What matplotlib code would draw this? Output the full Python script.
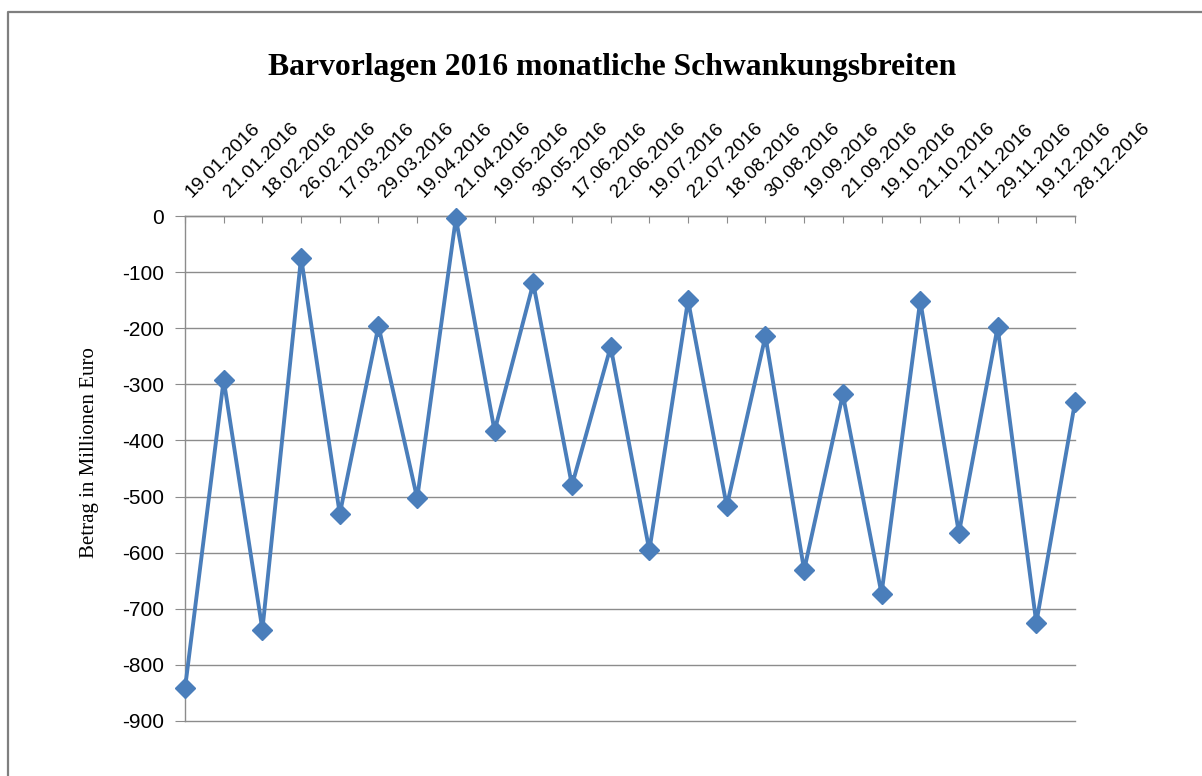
import matplotlib
matplotlib.use('Agg')
import matplotlib.pyplot as plt
from matplotlib.lines import Line2D
from matplotlib.transforms import ScaledTranslation

plt.rcParams['axes.unicode_minus'] = False

# Daten (in Mio. Euro)
dates = ['19.01.2016', '21.01.2016', '18.02.2016', '26.02.2016', '17.03.2016',
         '29.03.2016', '19.04.2016', '21.04.2016', '19.05.2016', '30.05.2016',
         '17.06.2016', '22.06.2016', '19.07.2016', '22.07.2016', '18.08.2016',
         '30.08.2016', '19.09.2016', '21.09.2016', '19.10.2016', '21.10.2016',
         '17.11.2016', '29.11.2016', '19.12.2016', '28.12.2016']
values = [-842, -292, -737, -74, -531, -196, -503, -4, -383, -120,
          -480, -233, -596, -150, -517, -214, -631, -318, -673, -151,
          -565, -198, -725, -332]
yticks = list(range(0, -1000, -100))

blue = '#4a7ebb'
grey = '#8c8c8c'

fig = plt.figure(figsize=(12.02, 7.76), dpi=100)

# Rahmen oben und links (wie im Screenshot)
x0, y0 = 8 / 1202, 1 - 12 / 776
fig.lines.append(Line2D([x0, x0, 1.0], [0.0, y0, y0], transform=fig.transFigure,
                        color='#7f7f7f', linewidth=1.6))

ax = fig.add_axes([185 / 1202, 1 - 721 / 776, (1075 - 185) / 1202, (721 - 216) / 776])

x = list(range(len(values)))
ax.plot(x, values, color=blue, linewidth=2.8, marker='D', markersize=10,
        markerfacecolor=blue, markeredgecolor=blue, zorder=3, clip_on=False)

ax.set_xlim(0, len(values) - 1)
ax.set_ylim(-900, 0)
ax.set_yticks(yticks)
ax.yaxis.grid(True, color=grey, linewidth=1)
for gl in ax.yaxis.get_gridlines():
    gl.set_clip_on(False)
ax.set_axisbelow(True)

ax.xaxis.tick_top()
ax.set_xticks(x)
ax.set_xticklabels(dates, rotation=45, ha='left', va='bottom',
                   rotation_mode='anchor', fontsize=14,
                   family='Liberation Sans')
ax.tick_params(axis='x', direction='in', length=5, color=grey, pad=11)
ax.tick_params(axis='y', direction='out', length=7, color=grey, pad=8,
               labelsize=15)
shift = ScaledTranslation(9 / 100, 0, fig.dpi_scale_trans)
for lab in ax.get_xticklabels():
    lab.set_transform(lab.get_transform() + shift)
for lab in ax.get_yticklabels():
    lab.set_family('Liberation Sans')

for s in ['right', 'bottom']:
    ax.spines[s].set_visible(False)
for s in ['left', 'top']:
    ax.spines[s].set_color(grey)
    ax.spines[s].set_linewidth(1)

ax.set_ylabel('Betrag in Millionen Euro', family='Liberation Serif', fontsize=15)
ax.yaxis.set_label_coords(-0.097, 0.531)

fig.text(0.509, 1 - 68 / 776, 'Barvorlagen 2016 monatliche Schwankungsbreiten',
         ha='center', va='center', fontsize=22.8, fontweight='bold',
         family='Liberation Serif')

fig.savefig('out.png', dpi=100)
